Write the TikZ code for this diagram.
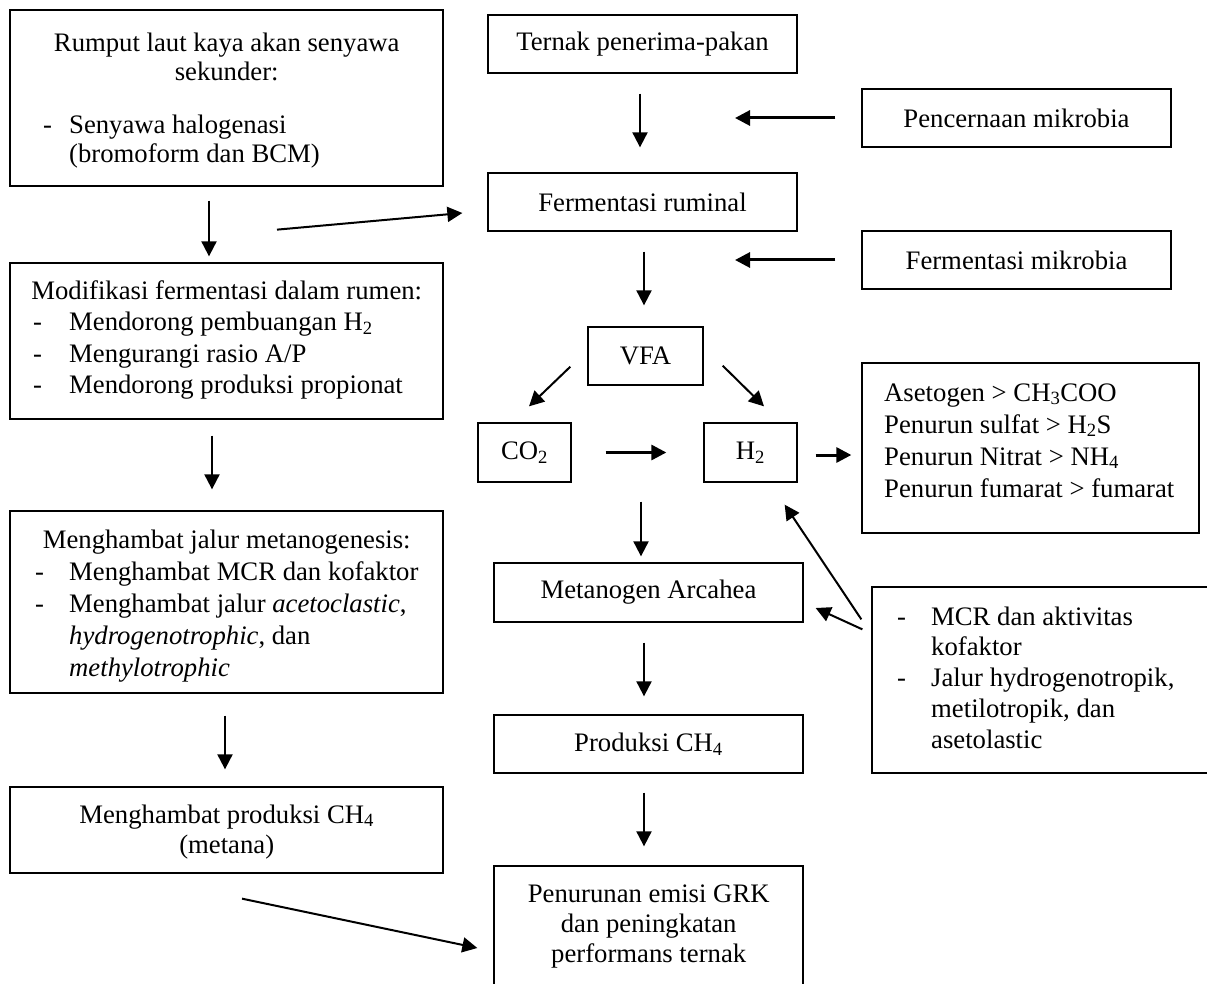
\documentclass[tikz,border=0pt]{standalone}
\usepackage{fontspec}
\setmainfont{Liberation Serif}
\usetikzlibrary{arrows.meta}
\newcommand\bul[1]{\hspace*{#1}\makebox[\dimexpr59pt-#1\relax][l]{-}}
\newcommand\ind{\hspace*{59pt}}
\begin{document}
\begin{tikzpicture}[x=1pt,y=-1pt,
  font=\fontsize{26.7}{32}\selectfont,
  box/.style={draw, line width=1.3pt, inner sep=0pt},
  txt/.style={inner sep=0pt, anchor=base west},
  arr/.style={line width=2pt, -{Triangle[length=15pt,width=15pt]}},
  harr/.style={line width=3pt, -{Triangle[length=15pt,width=15pt]}}]
\useasboundingbox (0,0) rectangle (1207,984);
% left column
\node[box, minimum width=433pt, minimum height=176pt] (rumput) at (226.5,98) {};
\node[txt] (rumputT) at (10,52) {\parbox[t]{433pt}{\fontsize{26.7}{29}\selectfont\centering
  Rumput laut kaya akan senyawa\\ sekunder:\par\vspace{24pt}\raggedright
  \bul{33pt}Senyawa halogenasi\\ \ind(bromoform dan BCM)\par}};
\node[box, minimum width=433pt, minimum height=156pt] (modif) at (226.5,341) {};
\node[txt] (modifT) at (10,299) {\parbox[t]{433pt}{\fontsize{26.7}{31.5}\selectfont\centering
  Modifikasi fermentasi dalam rumen:\par\raggedright
  \bul{23pt}Mendorong pembuangan H\textsubscript{2}\\
  \bul{23pt}Mengurangi rasio A/P\\
  \bul{23pt}Mendorong produksi propionat\par}};
\node[box, minimum width=433pt, minimum height=182pt] (jalur) at (226.5,602) {};
\node[txt] (jalurT) at (10,548) {\parbox[t]{433pt}{\fontsize{26.7}{32}\selectfont\centering
  Menghambat jalur metanogenesis:\par\raggedright
  \bul{25pt}Menghambat MCR dan kofaktor\\
  \bul{25pt}Menghambat jalur \textit{acetoclastic},\\
  \ind\textit{hydrogenotrophic}, dan\\
  \ind\textit{methylotrophic}\par}};
\node[box, minimum width=433pt, minimum height=86pt] (hprod) at (226.5,830) {};
\node[txt] (hprodT) at (10,823) {\parbox[t]{433pt}{\fontsize{26.7}{30}\selectfont\centering
  Menghambat produksi CH\textsubscript{4}\\ (metana)\par}};
% middle column
\node[box, minimum width=309pt, minimum height=58pt] (ternak) at (642.5,44) {Ternak penerima-pakan};
\node[box, minimum width=309pt, minimum height=58pt] (ferm) at (642.5,202) {Fermentasi ruminal};
\node[box, minimum width=115pt, minimum height=58pt] (vfa) at (645.5,356) {VFA};
\node[box, minimum width=93pt, minimum height=59pt] (co2) at (524.5,452.5) {CO\textsubscript{2}};
\node[box, minimum width=93pt, minimum height=59pt] (h2) at (750.5,452.5) {H\textsubscript{2}};
\node[box, minimum width=309pt, minimum height=59pt] (meta) at (648.5,592.5) {Metanogen Arcahea};
\node[box, minimum width=309pt, minimum height=58pt] (prod) at (648.5,744) {Produksi CH\textsubscript{4}};
\node[box, minimum width=309pt, minimum height=124pt] (pen) at (648.5,928) {};
\node[txt] (penT) at (494,902) {\parbox[t]{309pt}{\fontsize{26.7}{30}\selectfont\centering
  Penurunan emisi GRK\\ dan peningkatan\\ performans ternak\par}};
% right column
\node[box, minimum width=309pt, minimum height=58pt] (pencern) at (1016.5,118) {Pencernaan mikrobia};
\node[box, minimum width=309pt, minimum height=58pt] (fm) at (1016.5,260) {Fermentasi mikrobia};
\node[box, minimum width=337pt, minimum height=170pt] (aset) at (1030.5,448) {};
\node[txt] (asetT) at (884,401) {\parbox[t]{310pt}{\fontsize{26.7}{32}\selectfont\raggedright
  Asetogen > CH\textsubscript{3}COO\\
  Penurun sulfat > H\textsubscript{2}S\\
  Penurun Nitrat > NH\textsubscript{4}\\
  Penurun fumarat > fumarat\par}};
\node[box, minimum width=338pt, minimum height=186pt] (mbox) at (1041,680) {};
\node[txt] (mboxT) at (872,625) {\parbox[t]{335pt}{\fontsize{26.7}{30.8}\selectfont\raggedright
  \bul{25pt}MCR dan aktivitas\\
  \ind kofaktor\\
  \bul{25pt}Jalur hydrogenotropik,\\
  \ind metilotropik, dan\\
  \ind asetolastic\par}};
% free arrow ends
\coordinate (p1) at (735,118);
\coordinate (p2) at (735,260);
% arrows
\draw[arr] ([shift={(50.5,43)}]rumput.south) -- ([shift={(-25,11)}]ferm.west);
\draw[arr, shorten <=14pt, shorten >=6pt] ([xshift=-17.5pt]rumput.south) -- ([xshift=-17.5pt]modif.north);
\draw[arr, shorten <=16pt, shorten >=21pt] ([xshift=-14.5pt]modif.south) -- ([xshift=-14.5pt]jalur.north);
\draw[arr, shorten <=22pt, shorten >=17pt] ([xshift=-1.5pt]jalur.south) -- ([xshift=-1.5pt]hprod.north);
\draw[arr] ([shift={(15.5,25)}]hprod.south) -- ([shift={(-16,20)}]pen.west);
\draw[arr, shorten <=20pt, shorten >=25pt] ([xshift=-2.5pt]ternak.south) -- ([xshift=-2.5pt]ferm.north);
\draw[harr, shorten <=26pt] (pencern.west) -- (p1);
\draw[harr, shorten <=26pt] (fm.west) -- (p2);
\draw[arr, shorten <=20pt, shorten >=21pt] ([xshift=1.5pt]ferm.south) -- ([xshift=-1.5pt]vfa.north);
\draw[arr] ([shift={(-17,-19)}]vfa.south west) -- ([shift={(4.5,-16)}]co2.north);
\draw[arr] ([shift={(19,-20)}]vfa.south east) -- ([shift={(13.5,-16)}]h2.north);
\draw[harr, shorten <=34pt, shorten >=37pt] (co2.east) -- (h2.west);
\draw[harr, shorten <=18pt, shorten >=10pt] ([yshift=-2.5pt]h2.east) -- ([yshift=-7pt]aset.west);
\draw[arr, shorten <=116pt, shorten >=6pt] ([xshift=-4.5pt]vfa.south) -- ([xshift=-7.5pt]meta.north);
\draw[arr] ([shift={(-10,33)}]mbox.north west) -- ([shift={(-13,22)}]h2.south east);
\draw[arr] ([shift={(-9,43)}]mbox.north west) -- ([shift={(12,15.5)}]meta.east);
\draw[arr, shorten <=20pt, shorten >=18pt] ([xshift=-4.5pt]meta.south) -- ([xshift=-4.5pt]prod.north);
\draw[arr, shorten <=19pt, shorten >=19pt] ([xshift=-4.5pt]prod.south) -- ([xshift=-4.5pt]pen.north);
\end{tikzpicture}
\end{document}
